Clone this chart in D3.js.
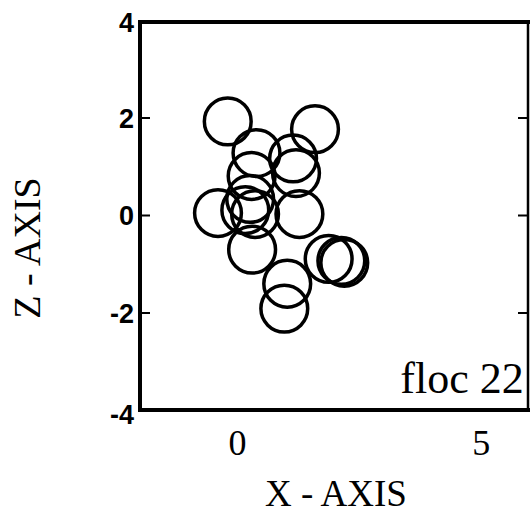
<!DOCTYPE html>
<html>
<head>
<meta charset="utf-8">
<script src="https://cdn.jsdelivr.net/npm/d3@7"></script>
<style>
  body { margin: 0; background: #fff; }
  svg { display: block; }
</style>
</head>
<body>
<svg id="chart" width="532" height="515"></svg>
<script>
// particle centres of floc 22 (x, z in axis units)
const particleX = [-0.20, 1.59, 0.39, 1.14, 1.20, 0.29, 0.26, -0.40, 0.16, 0.36, 1.27, 0.30, 1.02, 0.96, 1.87, 2.13, 2.19];
const particleZ = [1.92, 1.76, 1.27, 1.16, 0.86, 0.80, 0.33, 0.04, 0.10, 0.02, 0.02, -0.71, -1.41, -1.92, -0.90, -0.94, -0.98];
const particleRadius = 0.48;

const yTicks = [4, 2, 0, -2, -4];
const innerTicks = [2, 0, -2];
const xTicks = [0, 5];
const flocLabel = 'floc 22';

const svg = d3.select('#chart');
const margin = {top: 20, right: 2, bottom: 105, left: 140};
const width = 532, height = 515;

const x = d3.scaleLinear().domain([-2, 6]).range([margin.left, width - margin.right]);
const y = d3.scaleLinear().domain([-4, 4]).range([height - margin.bottom, margin.top]);

// circles (particles)
svg.append('g')
    .selectAll('circle')
    .data(d3.range(particleX.length))
    .join('circle')
    .attr('cx', (i) => x(particleX[i]))
    .attr('cy', (i) => y(particleZ[i]))
    .attr('r', x(particleRadius) - x(0))
    .attr('fill', 'none')
    .attr('stroke', '#000')
    .attr('stroke-width', 3.5);

// frame
const x0 = x(-2), x1 = x(6), y0 = y(-4), y1 = y(4) + 2;
svg.append('line').attr('x1', x0).attr('x2', x1).attr('y1', y1).attr('y2', y1)
    .attr('stroke', '#000').attr('stroke-width', 4);
svg.append('line').attr('x1', x0).attr('x2', x1).attr('y1', y0).attr('y2', y0)
    .attr('stroke', '#000').attr('stroke-width', 4);
svg.append('line').attr('x1', x0).attr('x2', x0).attr('y1', y1 - 2).attr('y2', y0 + 2)
    .attr('stroke', '#000').attr('stroke-width', 4);
svg.append('line').attr('x1', x1 - 2).attr('x2', x1 - 2).attr('y1', y1).attr('y2', y0)
    .attr('stroke', '#000').attr('stroke-width', 2.5);

// inward ticks on left and right
svg.append('g').call(d3.axisRight(y).tickValues(innerTicks).tickSize(10).tickFormat(''))
    .attr('transform', `translate(${x0},0)`)
    .call((g) => g.select('.domain').remove())
    .selectAll('line').attr('stroke-width', 2);
svg.append('g').call(d3.axisLeft(y).tickValues(innerTicks).tickSize(10).tickFormat(''))
    .attr('transform', `translate(${x1 - 2},0)`)
    .call((g) => g.select('.domain').remove())
    .selectAll('line').attr('stroke-width', 2);

// y tick labels
svg.append('g')
    .selectAll('text')
    .data(yTicks)
    .join('text')
    .attr('x', x0 - 6)
    .attr('y', (d) => y(d) + 10 + (d === 4 ? 2 : d === -4 ? 4 : 0))
    .attr('text-anchor', 'end')
    .style('font-family', 'Liberation Sans, Arial, sans-serif')
    .style('font-weight', 'bold')
    .style('font-size', '27px')
    .text((d) => d);

// x tick labels
svg.append('g')
    .selectAll('text')
    .data(xTicks)
    .join('text')
    .attr('x', (d) => x(d))
    .attr('y', y0 + 45)
    .attr('text-anchor', 'middle')
    .style('font-family', 'Liberation Serif, serif')
    .style('font-size', '36px')
    .text((d) => d);

// axis titles
svg.append('text')
    .attr('x', 336)
    .attr('y', 506)
    .attr('text-anchor', 'middle')
    .style('font-family', 'Liberation Serif, serif')
    .style('font-size', '37px')
    .text('X - AXIS');

svg.append('text')
    .attr('transform', 'translate(40,248) rotate(-90)')
    .attr('text-anchor', 'middle')
    .style('font-family', 'Liberation Serif, serif')
    .style('font-size', '38px')
    .text('Z - AXIS');

svg.append('text')
    .attr('x', 462)
    .attr('y', 393)
    .attr('text-anchor', 'middle')
    .style('font-family', 'Liberation Serif, serif')
    .style('font-size', '44px')
    .text(flocLabel);
</script>
</body>
</html>
